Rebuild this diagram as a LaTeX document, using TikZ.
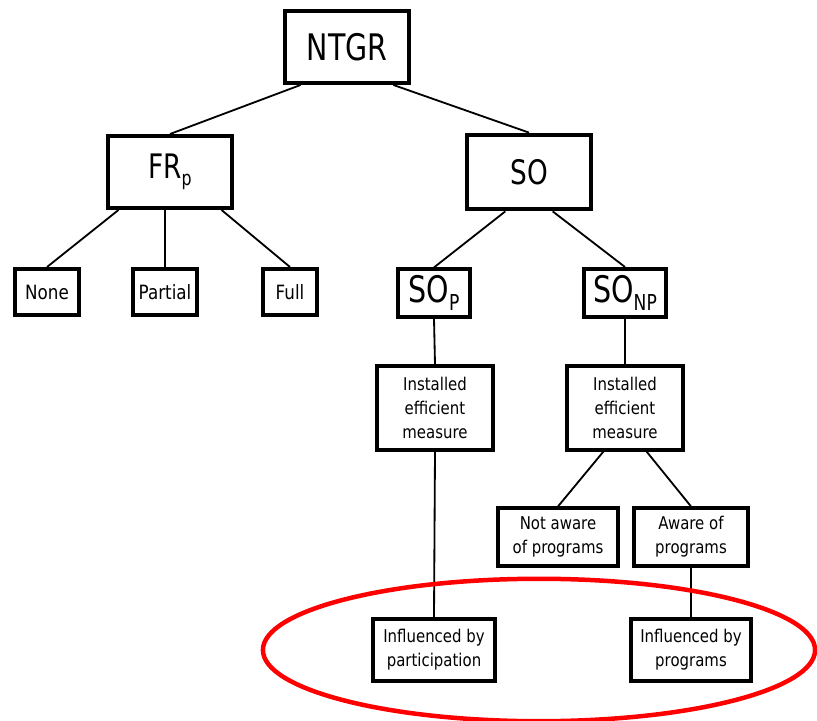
\documentclass[tikz,border=0pt]{standalone}
\usepackage{fontspec}
\setmainfont{DejaVu Sans}[FakeStretch = 0.85]
\newfontfamily\bigfont{DejaVu Sans}[FakeStretch = 0.78]
\usetikzlibrary{calc}

\newcommand{\lowsub}[1]{\raisebox{-0.22em}{\scalebox{0.6}{#1}}}

\tikzset{
	box/.style = {draw, line width = 2.8pt, align = center, inner sep = 0pt},
	bigbox/.style = {box, font = \bigfont\fontsize{#1}{#1}\selectfont},
	bigbox/.default = 24,
	smallbox/.style = {box, font = \fontsize{#1}{17}\selectfont},
	smallbox/.default = 12.5,
	link/.style = {line width = 1.3pt}
}

\begin{document}
\begin{tikzpicture}[x = 0.025cm, y = -0.025cm]

	\useasboundingbox (0, 0) rectangle (817, 721);

	% Top levels

	\node [bigbox = 26, minimum width = 3.08cm, minimum height = 1.8cm] (ntgr) at (347, 47) {NTGR};
	\node [bigbox = 24, minimum width = 3.12cm, minimum height = 1.8cm] (frp) at (170, 172) {FR\lowsub{p}};
	\node [bigbox, minimum width = 3.1cm, minimum height = 1.87cm] (so) at (529, 172) {SO};

	% Free ridership

	\node [smallbox = 14, minimum width = 1.6cm, minimum height = 1.15cm] (none) at (47, 292) {None};
	\node [smallbox = 14, minimum width = 1.58cm, minimum height = 1.15cm] (partial) at (165, 292) {Partial};
	\node [smallbox = 14, minimum width = 1.33cm, minimum height = 1.15cm] (full) at (290, 292) {Full};

	% Spillover

	\node [bigbox = 26, minimum width = 1.78cm, minimum height = 1.18cm] (sop) at (434, 293) {SO\lowsub{P}};
	\node [bigbox = 26, minimum width = 2.03cm, minimum height = 1.2cm] (sonp) at (625, 293) {SO\lowsub{NP}};

	\node [smallbox, minimum width = 2.9cm, minimum height = 2.08cm] (instp) at (435, 408) {Installed\\efficient\\measure};
	\node [smallbox, minimum width = 2.9cm, minimum height = 2.08cm] (instnp) at (625, 408) {Installed\\efficient\\measure};

	\node [smallbox, minimum width = 2.98cm, minimum height = 1.43cm] (notaware) at (558, 537) {Not aware\\of programs};
	\node [smallbox, minimum width = 2.83cm, minimum height = 1.43cm] (aware) at (691, 537) {Aware of\\programs};

	\node [smallbox, minimum width = 3.03cm, minimum height = 1.53cm] (inflpart) at (434, 650) {Influenced by\\participation};
	\node [smallbox, minimum width = 2.98cm, minimum height = 1.53cm] (inflprog) at (691, 650) {Influenced by\\programs};

	% Lines

	\draw [link] ($(ntgr.south)!0.73!(ntgr.south west)$) -- (frp.north);
	\draw [link] ($(ntgr.south)!0.73!(ntgr.south east)$) -- (so.north);

	\draw [link] ($(frp.south)!0.8!(frp.south west)$) -- (none.north);
	\draw [link] (partial.north) -- (partial.north |- frp.south);
	\draw [link] ($(frp.south)!0.8!(frp.south east)$) -- (full.north);

	\draw [link] ($(so.south)!0.37!(so.south west)$) -- (sop.north);
	\draw [link] ($(so.south)!0.37!(so.south east)$) -- (sonp.north);

	\draw [link] (sop.south) -- (instp.north);
	\draw [link] (sonp.south) -- (instnp.north);

	\draw [link] ($(instnp.south)!0.36!(instnp.south west)$) -- (notaware.north);
	\draw [link] ($(instnp.south)!0.36!(instnp.south east)$) -- (aware.north);

	\draw [link] (instp.south) -- (inflpart.north);
	\draw [link] (aware.south) -- (inflprog.north);

	% Highlight

	\draw [red, line width = 3.2pt] (539, 650) ellipse [x radius = 6.9cm, y radius = 1.78cm];

\end{tikzpicture}
\end{document}
